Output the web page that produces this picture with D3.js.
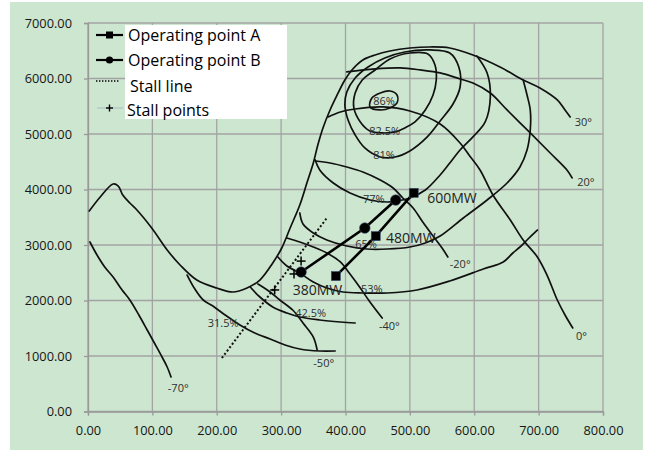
<!DOCTYPE html>
<html><head><meta charset="utf-8">
<script src="https://cdn.jsdelivr.net/npm/d3@7"></script>
<style>body{margin:0;background:#fff}svg{display:block}</style>
</head><body>
<svg id="c" width="649" height="453"></svg>
<script>
// ---- axis ticks ----
const xTicks = [0,100,200,300,400,500,600,700,800];
const yTicks = [0,1000,2000,3000,4000,5000,6000,7000];

// ---- operating points ----
const opLoads = ["600MW","480MW","380MW"];
const opAx = [506,447,385];
const opAy = [3940,3160,2440];
const opBx = [478,430,331];
const opBy = [3810,3305,2513];

// ---- stall ----
const stallPtX = [331,320,290];
const stallPtY = [2710,2478,2190];
const stallLineX = [208,371];
const stallLineY = [964,3486];

// ---- blade-angle lines ----
const envelope30 = [[2,3613],[19,3865],[39,4099],[47,4063],[54,3901],[65,3757],[76,3631],[99,3306],[123,2910],[143,2640],[169,2369],[200,2225],[225,2153],[247,2225],[267,2369],[287,2676],[301,2946],[314,3306],[329,3721],[340,4117],[350,4478],[357,4802],[365,5109],[376,5433],[387,5703],[399,5973],[410,6154],[427,6334],[446,6424],[469,6496],[500,6550],[531,6568],[562,6550],[598,6424],[640,6208],[676,5973],[702,5829],[729,5613],[741,5433],[749,5307]];
const angM70 = [[3,3054],[14,2820],[26,2603],[39,2423],[53,2189],[65,2009],[79,1739],[92,1468],[104,1216],[115,982],[123,802],[129,622]];
const angM50 = [[264,2297],[283,2153],[298,2009],[318,1829],[334,1595],[350,1342],[356,1108]];
const angM40 = [[309,3126],[329,3054],[350,2964],[371,2856],[392,2694],[407,2477],[423,2225],[438,1973],[457,1685]];
const angM20 = [[353,4514],[376,4478],[402,4406],[427,4316],[454,4172],[474,4027],[489,3847],[505,3667],[520,3414],[536,3162],[550,2946],[559,2784]];
const ang0 = [[373,5307],[392,5397],[415,5451],[458,5487],[500,5415],[547,5181],[578,4838],[593,4604],[609,4352],[629,3901],[656,3451],[676,3090],[698,2784],[713,2459],[729,2009],[741,1739],[753,1505]];
const ang20 = [[402,6118],[446,6172],[485,6190],[516,6154],[547,6100],[578,5991],[598,5919],[625,5739],[651,5433],[687,5019],[718,4658],[744,4352],[752,4208]];

// ---- efficiency contours ----
const eff315 = [[154,2459],[166,2207],[179,2009],[194,1901],[213,1739],[236,1559],[259,1414],[283,1306],[306,1198],[329,1126],[360,1090],[384,1090]];
const eff425 = [[252,2243],[267,2063],[287,1883],[309,1775],[329,1703],[360,1649],[392,1613],[415,1595]];
const eff53 = [[295,2784],[309,2622],[329,2495],[350,2333],[371,2225],[396,2153],[427,2135],[465,2135],[511,2189],[562,2351],[614,2567],[645,2694],[660,2856],[671,2964],[682,3090],[698,3270]];
const eff65 = [[329,3577],[334,3378],[350,3216],[371,3090],[402,2982],[433,2928],[465,2928],[500,2964],[524,3036],[547,3162],[583,3487],[620,3811],[651,4117],[671,4406],[682,4712],[687,5073],[687,5433],[682,5703],[676,5973]];
const eff77 = [[353,4532],[360,4352],[381,4117],[407,3937],[438,3811],[465,3775],[480,3793],[500,3847],[524,3991],[547,4262],[562,4478],[578,4712],[598,4947],[617,5217],[625,5667],[620,6100],[604,6406]];
const eff81 = [[454,4586],[477,4586],[500,4694],[527,4947],[547,5235],[567,5541],[578,5847],[576,6208],[562,6460],[531,6514],[492,6478],[461,6370],[435,6208],[415,6009],[402,5757],[399,5523],[404,5253],[415,4983],[430,4748]];
const eff825 = [[438,5054],[423,5217],[413,5469],[415,5739],[426,5973],[446,6154],[469,6352],[500,6460],[528,6442],[539,6244],[541,5973],[536,5703],[524,5433],[508,5217],[492,5109],[477,5037],[457,5019]];
const eff86 = [[438,5487],[441,5649],[454,5739],[469,5775],[480,5703],[480,5559],[469,5469],[454,5433]];

// ---- annotation texts (anchor in data units: left, baseline) ----
const effLabels = [["86%",443,5523],["82.5%",437,4983],["81%",443,4550],["77%",427,3757],["65%",415,2946],["53%",424,2135],["42.5%",322,1703],["31.5%",186,1523]];
const angLabels = [["30°",756,5144],["20°",760,4063],["0°",758,1288],["-20°",562,2586],["-40°",452,1468],["-50°",350,801],["-70°",124,351]];
const loadLabelPos = [[527,3757],[463,3036],[318,2099]];

const svg = d3.select("#c");
const W = 649, H = 453;
svg.append("rect").attr("x",0).attr("y",0).attr("width",W).attr("height",H).attr("fill","#fff");
svg.append("rect").attr("x",10).attr("y",2).attr("width",633).attr("height",448).attr("fill","#cde6d0");

const x = d3.scaleLinear().domain([0,800]).range([88,603]);
const y = d3.scaleLinear().domain([0,7000]).range([411.5,23]);

// grid
const g = svg.append("g");
g.selectAll(".vx").data(xTicks).join("line")
  .attr("x1",d=>x(d)).attr("x2",d=>x(d)).attr("y1",y(0)).attr("y2",y(7000))
  .attr("stroke","#a3a3a3").attr("stroke-width",1.3);
g.selectAll(".hy").data(yTicks).join("line")
  .attr("x1",x(0)).attr("x2",x(800)).attr("y1",d=>y(d)).attr("y2",d=>y(d))
  .attr("stroke","#a3a3a3").attr("stroke-width",1.3);

// axes
const fmt = d3.format(".2f");
const xa = svg.append("g").attr("transform",`translate(0,${y(0)})`)
  .call(d3.axisBottom(x).tickValues(xTicks).tickFormat(fmt).tickSize(4).tickPadding(10));
const ya = svg.append("g").attr("transform",`translate(${x(0)},0)`)
  .call(d3.axisLeft(y).tickValues(yTicks).tickFormat(fmt).tickSize(4).tickPadding(12));
[xa,ya].forEach(a=>{
  a.select(".domain").attr("stroke","#999").attr("stroke-width",1.3);
  a.selectAll(".tick line").attr("stroke","#999").attr("stroke-width",1.3);
  a.selectAll("text").attr("font-family","'Open Sans',sans-serif").attr("font-size",12.8).attr("fill","#161616");
});

// curves
const lineOpen = d3.line().x(d=>x(d[0])).y(d=>y(d[1])).curve(d3.curveCatmullRom.alpha(0.5));
const lineClosed = d3.line().x(d=>x(d[0])).y(d=>y(d[1])).curve(d3.curveCatmullRomClosed.alpha(0.5));
const openCurves = [envelope30, angM70, angM50, angM40, angM20, ang0, ang20, eff315, eff425, eff53, eff65, eff77];
const closedCurves = [eff81, eff825, eff86];
const cg = svg.append("g").attr("fill","none").attr("stroke","#111").attr("stroke-width",1.7).attr("stroke-linejoin","round").attr("stroke-linecap","round");
cg.selectAll(".o").data(openCurves).join("path").attr("d",lineOpen);
cg.selectAll(".c").data(closedCurves).join("path").attr("d",lineClosed);

// labels on curves
const lg = svg.append("g").attr("font-family","'Open Sans',sans-serif").attr("fill","#2e2e2e");
lg.selectAll(".e").data(effLabels).join("text")
  .attr("x",d=>x(d[1])).attr("y",d=>y(d[2])).attr("font-size",11).text(d=>d[0]);
lg.selectAll(".a").data(angLabels).join("text")
  .attr("x",d=>x(d[1])).attr("y",d=>y(d[2])).attr("font-size",11).text(d=>d[0]);

// stall line
const sl = d3.line().x(d=>x(d[0])).y(d=>y(d[1]));
svg.append("path").attr("d",sl(stallLineX.map((v,i)=>[v,stallLineY[i]])))
  .attr("fill","none").attr("stroke","#111").attr("stroke-width",2).attr("stroke-dasharray","2,2.2");

// operating lines
const opA = opAx.map((v,i)=>[v,opAy[i]]);
const opB = opBx.map((v,i)=>[v,opBy[i]]);
svg.append("path").attr("d",sl(opA)).attr("fill","none").attr("stroke","#000").attr("stroke-width",2.6);
svg.append("path").attr("d",sl(opB)).attr("fill","none").attr("stroke","#000").attr("stroke-width",2.6);
svg.selectAll(".sqA").data(opA).join("rect")
  .attr("x",d=>x(d[0])-4.5).attr("y",d=>y(d[1])-4.5).attr("width",9).attr("height",9)
  .attr("fill","#000").attr("stroke","#3a4a6a").attr("stroke-width",0.6);
svg.selectAll(".ciB").data(opB).join("circle")
  .attr("cx",d=>x(d[0])).attr("cy",d=>y(d[1])).attr("r",5.3)
  .attr("fill","#000").attr("stroke","#3a4a6a").attr("stroke-width",0.6);

// stall points
const sp = stallPtX.map((v,i)=>[v,stallPtY[i]]);
const spg = svg.append("g").attr("stroke","#000").attr("stroke-width",1.5);
sp.forEach(d=>{
  const cx=x(d[0]), cy=y(d[1]);
  spg.append("line").attr("x1",cx-4.5).attr("x2",cx+4.5).attr("y1",cy).attr("y2",cy);
  spg.append("line").attr("x1",cx).attr("x2",cx).attr("y1",cy-4.5).attr("y2",cy+4.5);
});

// load labels
svg.append("g").attr("font-family","'Open Sans',sans-serif").attr("fill","#222")
  .selectAll("text").data(opLoads).join("text")
  .attr("x",(d,i)=>x(loadLabelPos[i][0])).attr("y",(d,i)=>y(loadLabelPos[i][1]))
  .attr("font-size",14).text(d=>d);

// legend
const leg = svg.append("g");
leg.append("rect").attr("x",125).attr("y",25).attr("width",162).attr("height",94).attr("fill","#fff");
const legNames = ["Operating point A","Operating point B","Stall line","Stall points"];
const legY = [35,60,86,110];
const legBase = [41,66,92,116];
const legTx = [128,128,130,127];
leg.selectAll("text").data(legNames).join("text")
  .attr("x",(d,i)=>legTx[i]).attr("y",(d,i)=>legBase[i])
  .attr("font-family","'Open Sans',sans-serif").attr("font-size",16).attr("fill","#000").text(d=>d);
// symbols
leg.append("line").attr("x1",96).attr("x2",123).attr("y1",legY[0]).attr("y2",legY[0]).attr("stroke","#000").attr("stroke-width",2.2);
leg.append("rect").attr("x",106).attr("y",legY[0]-3.5).attr("width",7).attr("height",7).attr("fill","#000");
leg.append("line").attr("x1",96).attr("x2",123).attr("y1",legY[1]).attr("y2",legY[1]).attr("stroke","#000").attr("stroke-width",2.2);
leg.append("circle").attr("cx",109.5).attr("cy",legY[1]).attr("r",3.6).attr("fill","#000");
leg.append("line").attr("x1",96).attr("x2",119).attr("y1",81).attr("y2",81).attr("stroke","#000").attr("stroke-width",1.6).attr("stroke-dasharray","1.4,1.6");
leg.append("line").attr("x1",97).attr("x2",123).attr("y1",108).attr("y2",108).attr("stroke","#9aa8c0").attr("stroke-width",0.7);
leg.append("line").attr("x1",106).attr("x2",113).attr("y1",108).attr("y2",108).attr("stroke","#000").attr("stroke-width",1.4);
leg.append("line").attr("x1",109.5).attr("x2",109.5).attr("y1",104.5).attr("y2",111.5).attr("stroke","#000").attr("stroke-width",1.4);
</script>
</body></html>
